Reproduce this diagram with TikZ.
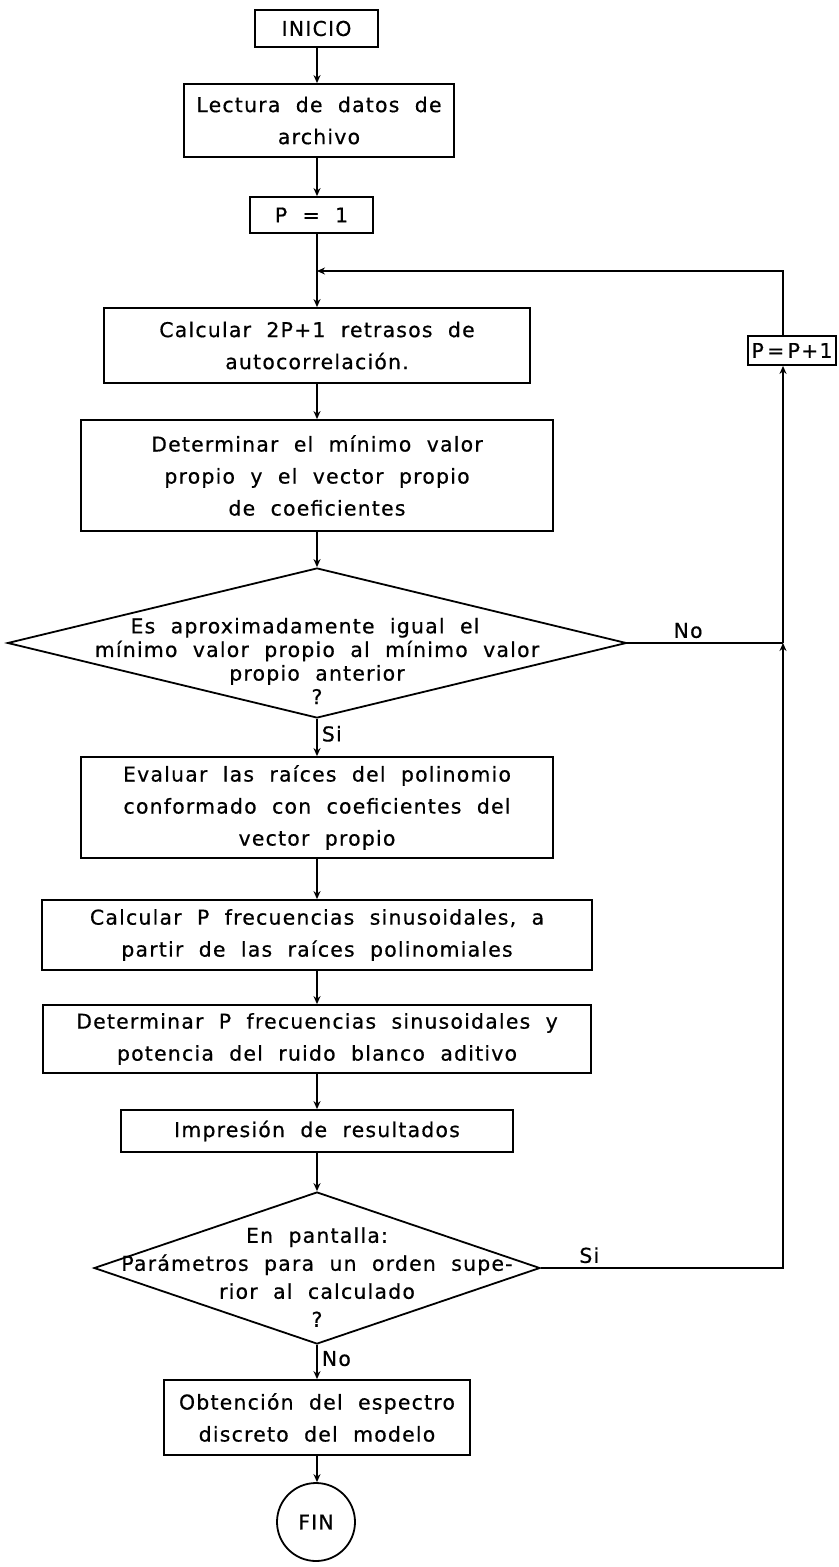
\documentclass[tikz,border=0pt]{standalone}
\usepackage{fontspec}
\setmainfont{DejaVu Sans}[LetterSpace=6, WordSpace=2, FakeBold=0.6]
\usetikzlibrary{shapes.geometric,arrows.meta,calc}

\begin{document}
\begin{tikzpicture}[x=0.5pt,y=-0.5pt,
  sz/.style 2 args={minimum width=#1*0.5pt, minimum height=#2*0.5pt},
  txt/.style={font=\fontsize{10.2}{16}\selectfont, align=center},
  box/.style={draw, line width=0.9pt, inner sep=0pt, txt},
  decision/.style={draw, diamond, line width=0.9pt, inner sep=0pt},
  term/.style={draw, circle, line width=0.9pt, inner sep=0pt, txt},
  flow/.style={line width=0.9pt, -{Stealth[length=4pt,width=3.5pt]}},
  link/.style={line width=0.9pt},
  lbl/.style={font=\fontsize{10.2}{12}\selectfont, inner sep=2pt}
]
\useasboundingbox (0,0) rectangle (839,1567);

% reference lines of the chart: main column and return column
\coordinate (mx) at (317,0);
\coordinate (xr) at (783,0);
\coordinate (loopj) at (317,271);

% process steps
\node[box, sz={123}{37}] (inicio) at (316.5,28.5) {INICIO};
\node[box, sz={270}{73}] (lectura) at (319,120.5) {Lectura de datos de\\archivo};
\node[box, sz={123}{36}] (p1) at (311.5,215) {P = 1};
\node[box, sz={426}{75}] (calc) at (317,345.5) {Calcular 2P+1 retrasos de\\autocorrelación.};
\node[box, sz={472}{111}] (detmin) at (317,475.5) {Determinar el mínimo valor\\propio y el vector propio\\de coeficientes};

\node[decision, sz={619}{150}] (d1) at (317,643) {};
\node[txt, font=\fontsize{10.2}{11.8}\selectfont] (d1txt) at (317,661) {Es aproximadamente igual el\hspace*{12pt}\\mínimo valor propio al mínimo valor\\propio anterior\\?};

\node[box, sz={472}{101}] (evaluar) at (317,807.5) {Evaluar las raíces del polinomio\\conformado con coeficientes del\\vector propio};
\node[box, sz={550}{70}] (calcP) at (317,935) {Calcular P frecuencias sinusoidales, a\\partir de las raíces polinomiales};
\node[box, sz={548}{68}] (detP) at (317,1039) {Determinar P frecuencias sinusoidales y\\potencia del ruido blanco aditivo};
\node[box, sz={392}{42}] (impr) at (317,1131) {Impresión de resultados};

\node[decision, sz={446}{152}] (d2) at (317,1268) {};
\node[txt, font=\fontsize{10.2}{14}\selectfont] (d2txt) at (317,1277) {En pantalla:\\Parámetros para un orden supe-\\rior al calculado\hspace*{26pt}\\?};

\node[box, sz={306}{75}] (obt) at (317,1417.5) {Obtención del espectro\\discreto del modelo};
\node[term, minimum size=39pt] (fin) at (316,1522) {FIN};

\node[box, sz={88}{29}] (pp1) at (792,350.5) {P\,=\,P+1};

% main column
\draw[flow] (inicio.south -| mx) -- (lectura.north -| mx);
\draw[flow] (lectura.south -| mx) -- (p1.north -| mx);
\draw[flow] (p1.south -| mx) -- (calc.north -| mx);
\draw[flow] (calc.south -| mx) -- (detmin.north -| mx);
\draw[flow] (detmin.south -| mx) -- (d1.north);
\draw[flow] (d1.south) -- node[lbl, right, pos=0.4] {Si} (evaluar.north -| mx);
\draw[flow] (evaluar.south -| mx) -- (calcP.north -| mx);
\draw[flow] (calcP.south -| mx) -- (detP.north -| mx);
\draw[flow] (detP.south -| mx) -- (impr.north -| mx);
\draw[flow] (impr.south -| mx) -- (d2.north);
\draw[flow] (d2.south) -- node[lbl, right, pos=0.4] {No} (obt.north -| mx);
\draw[flow] (obt.south -| mx) -- (fin.north -| mx);

% return path for a higher order
\draw[link] (d1.east) -- node[lbl, above, pos=0.39] {No} (d1.east -| xr);
\draw[flow] (d2.east) -- node[lbl, above, pos=0.2] {Si} (d2.east -| xr) -- (d1.east -| xr);
\draw[flow] (d1.east -| xr) -- (pp1.south -| xr);
\draw[flow] (pp1.north -| xr) -- (xr |- loopj) -- (loopj);
\end{tikzpicture}
\end{document}
